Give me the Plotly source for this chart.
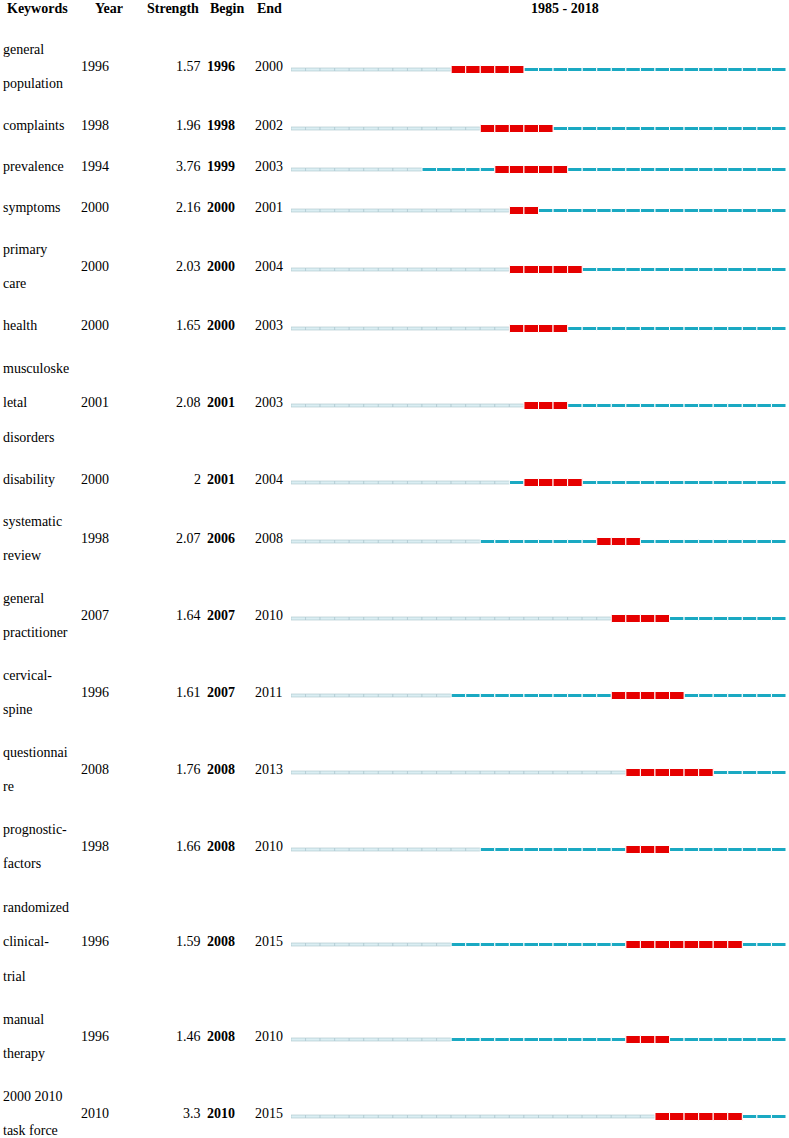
import plotly.graph_objects as go

# Дані: ключові слова з найсильнішими сплесками цитувань
keywords = [
    "general\npopulation", "complaints", "prevalence", "symptoms",
    "primary\ncare", "health", "musculoske\nletal\ndisorders", "disability",
    "systematic\nreview", "general\npractitioner", "cervical-\nspine",
    "questionnai\nre", "prognostic-\nfactors", "randomized\nclinical-\ntrial",
    "manual\ntherapy", "2000 2010\ntask force",
]
years = [1996, 1998, 1994, 2000, 2000, 2000, 2001, 2000, 1998, 2007, 1996, 2008, 1998, 1996, 1996, 2010]
strength = [1.57, 1.96, 3.76, 2.16, 2.03, 1.65, 2.08, 2, 2.07, 1.64, 1.61, 1.76, 1.66, 1.59, 1.46, 3.3]
begin = [1996, 1998, 1999, 2000, 2000, 2000, 2001, 2001, 2006, 2007, 2007, 2008, 2008, 2008, 2008, 2010]
end = [2000, 2002, 2003, 2001, 2004, 2003, 2003, 2004, 2008, 2010, 2011, 2013, 2010, 2015, 2010, 2015]
headers = ["Keywords", "Year", "Strength", "Begin", "End"]
first_year, last_year = 1985, 2018

W, H = 789, 1138
FONT = "Liberation Serif"
X0, X1 = 291, 786  # межі часової шкали в пікселях

# Позиції рядків за кількістю рядків тексту
line_gap = 34.5
centers = []
top = 28
for kw in keywords:
    n = len(kw.split("\n"))
    h = 5 + 36 * n
    centers.append(top + h / 2)
    top += h

fig = go.Figure()

# Сегменти часової шкали
styles = {
    "light": dict(color="#dbeef3", line=dict(color="#a8c3cb", width=0.6), width=3),
    "teal": dict(color="#1aa9c2", line=dict(color="white", width=1), width=4),
    "red": dict(color="#e60000", line=dict(color="white", width=1), width=8),
}
cells = {k: dict(base=[], y=[]) for k in styles}
for i in range(len(keywords)):
    for yr in range(first_year, last_year + 1):
        if yr < years[i]:
            kind = "light"
        elif begin[i] <= yr <= end[i]:
            kind = "red"
        else:
            kind = "teal"
        cells[kind]["base"].append(yr)
        cells[kind]["y"].append(centers[i] + 3)

for kind, st in styles.items():
    n = len(cells[kind]["y"])
    fig.add_trace(go.Bar(
        orientation="h",
        base=cells[kind]["base"],
        x=[1] * n,
        y=cells[kind]["y"],
        width=st["width"],
        marker=dict(color=st["color"], line=st["line"]),
        hoverinfo="skip",
        showlegend=False,
        xaxis="x", yaxis="y",
    ))


def label(x, y, text, anchor, bold=False):
    fig.add_annotation(
        x=x, y=y, xref="x2", yref="y",
        text=f"<b>{text}</b>" if bold else text,
        showarrow=False, xanchor=anchor, yanchor="middle",
        font=dict(family=FONT, size=14, color="black"),
        borderpad=0,
    )


# Текстові колонки
for i, kw in enumerate(keywords):
    parts = kw.split("\n")
    n = len(parts)
    for j, p in enumerate(parts):
        label(2, centers[i] + (j - (n - 1) / 2) * line_gap, p, "left")
    label(80, centers[i], str(years[i]), "left")
    label(202, centers[i], f"{strength[i]:g}", "right")
    label(206, centers[i], str(begin[i]), "left", bold=True)
    label(254, centers[i], str(end[i]), "left")

# Заголовки
head_x = [6, 109, 200, 209, 256]
head_anchor = ["left", "center", "right", "left", "left"]
for hx, ha, ht in zip(head_x, head_anchor, headers):
    label(hx, 8, ht, ha, bold=True)

fig.add_annotation(
    text=f"<b>{first_year} - {last_year}</b>", x=565 / W, y=8,
    xref="paper", yref="y", showarrow=False, xanchor="center",
    font=dict(family=FONT, size=14, color="black"),
)

fig.update_layout(
    width=W, height=H,
    margin=dict(l=0, r=0, t=0, b=0),
    paper_bgcolor="white", plot_bgcolor="white",
    barmode="overlay",
    xaxis=dict(domain=[X0 / W, X1 / W], range=[first_year, last_year + 1],
               visible=False, fixedrange=True),
    xaxis2=dict(domain=[0, X0 / W], range=[0, X0], visible=False,
                fixedrange=True, anchor="y"),
    yaxis=dict(range=[H, 0], visible=False, fixedrange=True),
)

fig.write_html(
    "out.html",
    config={"displayModeBar": False},
    post_script="document.body.style.margin='0';document.body.style.overflow='hidden';",
)
